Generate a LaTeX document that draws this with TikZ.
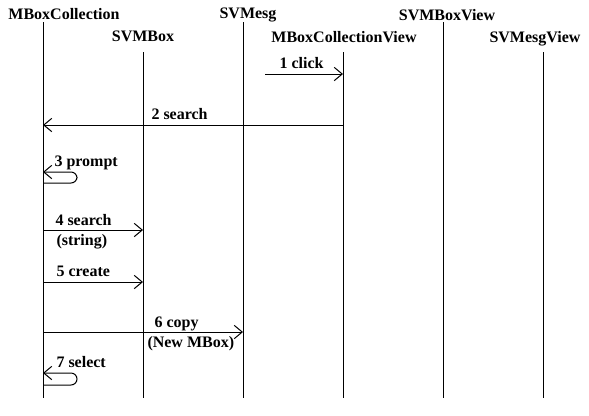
\documentclass[tikz,border=0pt]{standalone}
\usepackage{fontspec}
\setmainfont{Liberation Serif}
\usetikzlibrary{arrows.meta}

\tikzset{every picture/.style={line width=0.75pt}}
\tikzset{
  head/.style={anchor=base,inner sep=0.75pt,font=\bfseries\fontsize{12}{14}\selectfont},
  msgtext/.style={anchor=base west,inner sep=0.75pt,font=\bfseries\fontsize{12}{14}\selectfont},
  msg/.style={-{Straight Barb[length=6pt,width=10pt,line width=0.75pt]}},
  selfmsg/.style={msg,rounded corners=4.5pt}
}

\begin{document}
\begin{tikzpicture}[x=0.75pt,y=0.75pt,yscale=-1,xscale=1]
\useasboundingbox (0,0) rectangle (589,415);

% Lifeline tops
\coordinate (mbc) at (43,22);
\coordinate (svb) at (143,52);
\coordinate (svm) at (243,22);
\coordinate (mbcv) at (343,52);
\coordinate (svbv) at (443,22);
\coordinate (svmv) at (543,52);
\coordinate (bot) at (0,398);

% Text Node
\node [head] (mbcHead) at (64,19) {MBoxCollection};
\node [head] (svbHead) at (143,41) {SVMBox};
\node [head] (svmHead) at (248,18) {SVMesg};
\node [head] (mbcvHead) at (344,42) {MBoxCollectionView};
\node [head] (svbvHead) at (447,20) {SVMBoxView};
\node [head] (svmvHead) at (535,42) {SVMesgView};

% Lifelines
\foreach \l in {mbc,svb,svm,mbcv,svbv,svmv}
  \draw (\l) -- (\l |- bot);

% Messages
\coordinate (clickStart) at (265,74);
\draw [msg] (clickStart) -- (mbcv |- clickStart);
\node [msgtext] (clickText) at (278,68) {1 click};

\draw [msg] (mbcv |- 0,125) -- (mbc |- 0,125);
\node [msgtext] (searchText) at (150,119) {2 search};

\draw [selfmsg] (mbc |- 0,183) -- (77,183) -- (77,172) -- (mbc |- 0,172);
\node [msgtext] (promptText) at (53,166) {3 prompt};

\draw [msg] (mbc |- 0,230) -- (svb |- 0,230);
\node [msgtext] (searchStrText) at (54,225) {4 search};
\node [msgtext] (stringText) at (55,245) {(string)};

\draw [msg] (mbc |- 0,282) -- (svb |- 0,282);
\node [msgtext] (createText) at (55,276) {5 create};

\draw [msg] (mbc |- 0,332) -- (svm |- 0,332);
\node [msgtext] (copyText) at (153,327) {6 copy};
\node [msgtext] (newText) at (146,347) {(New MBox)};

\draw [selfmsg] (mbc |- 0,385) -- (77,385) -- (77,373) -- (mbc |- 0,373);
\node [msgtext] (selectText) at (55,367) {7 select};

\end{tikzpicture}
\end{document}
